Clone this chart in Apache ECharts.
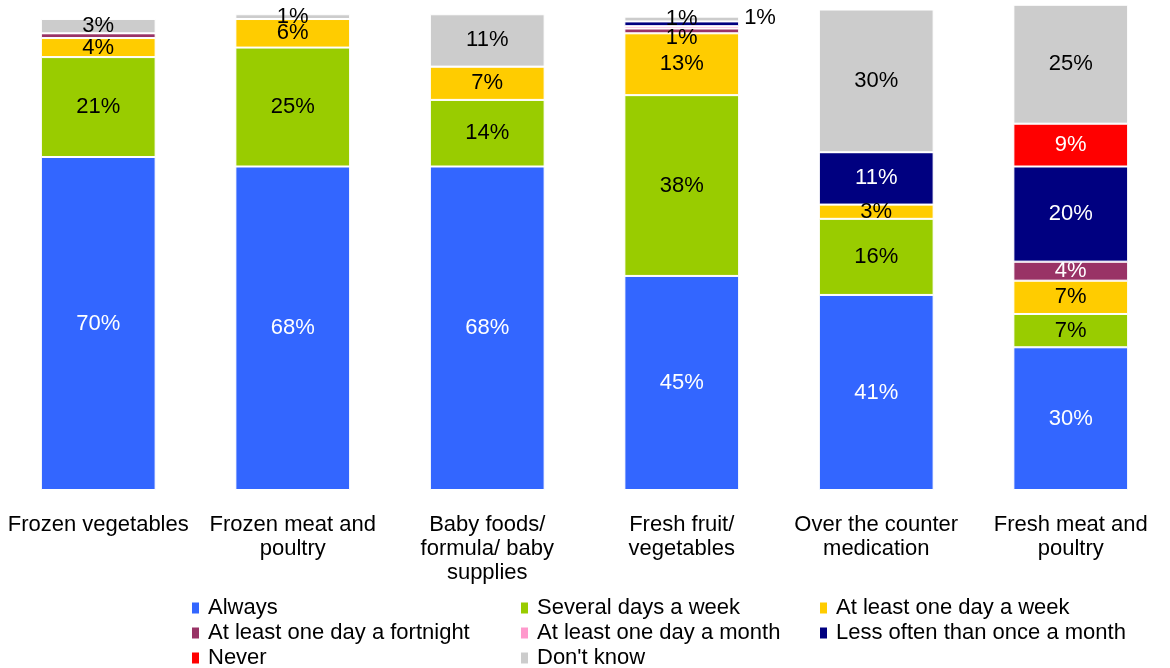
<!DOCTYPE html>
<html>
<head>
<meta charset="utf-8">
<script src="https://cdn.jsdelivr.net/npm/echarts@6/dist/echarts.min.js"></script>
<style>html,body{margin:0;padding:0;background:#fff;}#c{width:1170px;height:668px;}</style>
</head>
<body>
<div id="c"></div>
<script>
const categories = ['Frozen vegetables', 'Frozen meat and\npoultry', 'Baby foods/\nformula/ baby\nsupplies', 'Fresh fruit/\nvegetables', 'Over the counter\nmedication', 'Fresh meat and\npoultry'];
const seriesNames = ['Always', 'Several days a week', 'At least one day a week', 'At least one day a fortnight', 'At least one day a month', 'Less often than once a month', 'Never', "Don't know"];
const always    = [70, 68, 68, 45, 41, 30];
const several   = [21, 25, 14, 38, 16, 7];
const week      = [4, 6, 7, 13, 3, 7];
const fortnight = [1, 0, 0, 1, 0, 4];
const month     = [0, 0, 0, 0.5, 0, 0];
const lessOften = [0, 0, 0, 1, 11, 20];
const never     = [0, 0, 0, 0, 0, 9];
const dontKnow  = [3, 1, 11, 1, 30, 25];
const values = [always, several, week, fortnight, month, lessOften, never, dontKnow];

const colors = ['#3366FF', '#99CC00', '#FFCC00', '#993366', '#FF99CC', '#000080', '#FF0000', '#CCCCCC'];
const labelColors = ['#fff', '#000', '#000', '#fff', '#000', '#fff', '#fff', '#000'];
const labelOverrides = {
  3: {0: {show: false}, 3: {color: '#000', offset: [0, 7]}},
  5: {3: {position: 'right', color: '#000', offset: [0, -6]}}
};
const FONT = "'Liberation Sans', Arial, sans-serif";
const FS = 22;

const series = seriesNames.map((name, si) => ({
  name,
  type: 'bar',
  stack: 'total',
  barCategoryGap: '41%',
  itemStyle: {color: colors[si], borderColor: '#fff', borderWidth: 1},
  label: {
    show: true, position: 'inside', color: labelColors[si],
    fontFamily: FONT, fontSize: FS,
    formatter: p => p.value >= 1 ? p.value + '%' : ''
  },
  data: values[si].map((v, ci) => {
    const o = labelOverrides[si] && labelOverrides[si][ci];
    return o ? {value: v, label: o} : v;
  })
}));

// legend layout: column (icon left) and row (centre y) for each series
const legendCols = [190, 519, 818, 190, 519, 818, 190, 519];
const legendRows = [607, 607, 607, 632, 632, 632, 657, 657];
const legends = seriesNames.map((name, i) => ({
  data: [name], left: legendCols[i], top: legendRows[i] - 11,
  itemWidth: 9, itemHeight: 13, icon: 'rect', padding: 0,
  textStyle: {fontFamily: FONT, fontSize: FS, color: '#000', lineHeight: 24, padding: [0, 0, 0, 3]}
}));

const chart = echarts.init(document.getElementById('c'), null, {renderer: 'canvas'});
chart.setOption({
  animation: false,
  color: colors,
  grid: {left: 1, right: 2, top: 0, bottom: 178},
  xAxis: {
    type: 'category', data: categories,
    axisLine: {show: false}, axisTick: {show: false},
    axisLabel: {fontFamily: FONT, fontSize: FS, color: '#000', lineHeight: 24, margin: 23, interval: 0}
  },
  yAxis: {type: 'value', min: 0, max: 103, show: false, splitLine: {show: false}},
  legend: legends,
  series
});
</script>
</body>
</html>
